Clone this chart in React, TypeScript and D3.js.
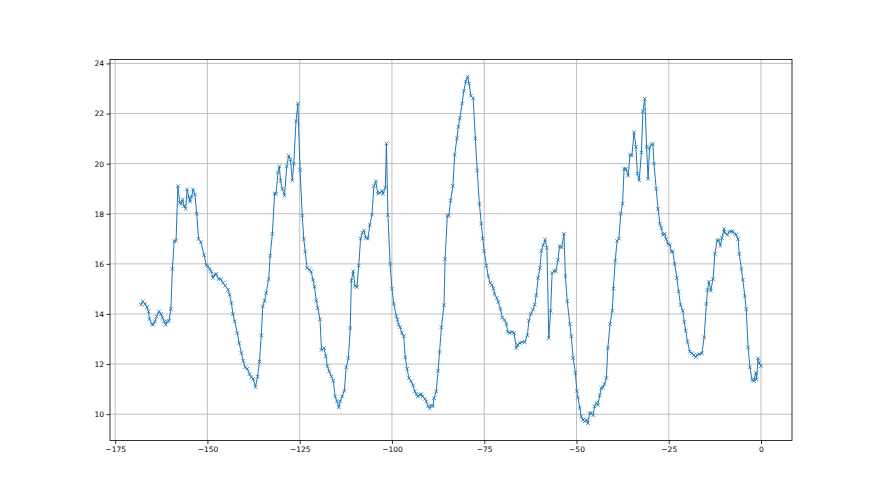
import { useEffect, useRef } from "react";
import * as d3 from "d3";

// readings: [hour offset, value]
const readings: [number, number][] = [
  [-168.0, 14.37], [-167.5, 14.5], [-166.9, 14.4], [-166.4, 14.27], [-166.0, 14.1], [-165.7, 13.8], [-165.1, 13.6], [-164.7, 13.57], [-164.2, 13.7], [-163.8, 13.9],
  [-163.1, 14.1], [-162.6, 14.0], [-162.2, 13.85], [-161.7, 13.7], [-161.3, 13.57], [-160.9, 13.7], [-160.4, 13.73], [-159.9, 14.2], [-159.5, 15.8], [-159.0, 16.9],
  [-158.5, 16.93], [-158.0, 19.1], [-157.5, 18.44], [-157.1, 18.4], [-156.7, 18.57], [-156.3, 18.3], [-155.9, 18.2], [-155.5, 18.97], [-155.0, 18.64], [-154.7, 18.48],
  [-154.3, 18.67], [-153.9, 18.97], [-153.4, 18.77], [-152.9, 18.0], [-152.4, 17.0], [-151.8, 16.87], [-150.9, 16.35],
  [-150.3, 15.95], [-149.9, 15.9], [-149.4, 15.8], [-149.0, 15.7], [-148.5, 15.44], [-148.0, 15.57], [-147.6, 15.6], [-147.0, 15.4], [-146.4, 15.39], [-145.8, 15.24],
  [-145.2, 15.13], [-144.4, 14.97], [-144.0, 14.77], [-143.5, 14.44], [-143.1, 14.0], [-142.6, 13.7], [-141.9, 13.24], [-141.4, 12.84], [-140.8, 12.44], [-140.3, 12.13],
  [-139.8, 11.87], [-139.2, 11.81], [-138.6, 11.6], [-138.1, 11.47], [-137.6, 11.41], [-137.0, 11.08], [-136.4, 11.5], [-135.9, 12.1], [-135.4, 13.15], [-135.0, 14.3],
  [-134.5, 14.53], [-134.1, 14.83], [-133.4, 15.39], [-133.0, 16.32], [-132.4, 17.2], [-131.8, 18.8], [-131.4, 18.8], [-130.9, 19.65], [-130.5, 19.89], [-130.2, 19.33],
  [-129.7, 18.99], [-129.1, 18.72], [-128.5, 19.89], [-128.0, 20.32], [-127.5, 20.16], [-127.0, 19.33], [-126.6, 20.0], [-126.0, 21.69], [-125.5, 22.4], [-124.9, 19.76],
  [-124.3, 17.92], [-123.9, 16.99], [-123.5, 16.49], [-123.0, 15.83], [-122.3, 15.76], [-121.9, 15.69], [-121.4, 15.36], [-121.0, 15.09], [-120.5, 14.53], [-120.1, 14.23],
  [-119.5, 13.79], [-119.1, 12.56], [-118.4, 12.64], [-117.9, 12.31], [-117.5, 11.91], [-117.0, 11.71], [-116.4, 11.51], [-115.9, 11.33], [-115.4, 10.71], [-114.9, 10.51],
  [-114.4, 10.27], [-114.0, 10.51], [-113.5, 10.71], [-112.9, 10.93], [-112.4, 11.87], [-111.8, 12.24], [-111.3, 13.44], [-111.0, 15.33], [-110.5, 15.71], [-110.0, 15.11],
  [-109.5, 15.07], [-109.0, 15.93], [-108.5, 17.01], [-108.0, 17.24], [-107.6, 17.33], [-107.1, 17.04], [-106.5, 17.01], [-106.0, 17.55], [-105.4, 17.97], [-104.9, 19.1],
  [-104.4, 19.3], [-103.8, 18.8], [-103.3, 18.84], [-102.7, 18.91], [-102.4, 18.8], [-101.8, 19.04], [-101.5, 20.8], [-101.1, 17.95], [-100.5, 16.0], [-100.0, 15.01],
  [-99.5, 14.4], [-98.8, 13.91], [-98.5, 13.77], [-98.2, 13.57], [-97.8, 13.47], [-97.3, 13.24], [-96.8, 13.11], [-96.4, 12.27], [-95.9, 11.81], [-95.4, 11.44],
  [-94.8, 11.31], [-94.3, 11.15], [-93.8, 10.91], [-93.4, 10.8], [-93.0, 10.71], [-92.4, 10.77], [-92.1, 10.8], [-91.7, 10.71], [-91.1, 10.61], [-90.7, 10.51],
  [-90.2, 10.31], [-89.8, 10.24], [-89.4, 10.35], [-88.9, 10.31], [-88.6, 10.64], [-88.0, 10.91], [-87.5, 11.73], [-87.1, 12.48], [-86.6, 13.47], [-85.9, 14.35],
  [-85.6, 16.2], [-85.0, 17.91], [-84.6, 17.93], [-84.1, 18.53], [-83.5, 19.11], [-83.0, 20.35], [-82.4, 21.01], [-82.0, 21.47], [-81.6, 21.81], [-81.0, 22.4],
  [-80.5, 22.91], [-80.0, 23.28], [-79.5, 23.47], [-79.1, 23.2], [-78.6, 22.71], [-78.0, 22.61], [-77.4, 21.01], [-76.9, 19.73], [-76.3, 18.39], [-75.8, 17.6],
  [-75.4, 17.01], [-75.0, 16.51], [-74.4, 15.93], [-73.9, 15.51], [-73.4, 15.24], [-72.9, 15.15], [-72.5, 15.01], [-72.2, 14.8], [-71.6, 14.64], [-71.2, 14.48],
  [-70.6, 14.2], [-70.1, 13.85], [-69.5, 13.77], [-69.0, 13.6], [-68.6, 13.28], [-68.1, 13.24], [-67.5, 13.28], [-66.9, 13.24], [-66.3, 12.64], [-65.9, 12.77],
  [-65.3, 12.84], [-64.7, 12.88], [-64.0, 12.88], [-63.3, 13.15], [-62.9, 13.73], [-62.4, 14.0], [-61.8, 14.17], [-61.3, 14.37], [-60.9, 14.75], [-60.4, 15.44],
  [-59.9, 15.84], [-59.5, 16.53], [-59.0, 16.75], [-58.5, 16.97], [-58.0, 16.64], [-57.5, 13.04], [-57.0, 14.13], [-56.6, 15.64], [-56.1, 15.71], [-55.6, 15.71],
  [-55.0, 16.15], [-54.6, 16.71], [-54.0, 16.65], [-53.4, 17.2], [-53.0, 15.51], [-52.5, 14.51], [-51.8, 13.6], [-51.4, 13.11], [-50.9, 12.24], [-50.3, 11.64],
  [-49.9, 10.93], [-49.6, 10.67], [-49.1, 10.24], [-48.7, 9.91], [-48.2, 9.77], [-47.8, 9.71], [-47.3, 9.77], [-46.9, 9.64], [-46.4, 10.04], [-46.0, 10.04],
  [-45.5, 9.95], [-45.1, 10.31], [-44.6, 10.44], [-44.2, 10.37], [-43.7, 10.75], [-43.3, 11.04], [-42.8, 11.07], [-42.4, 11.2], [-41.9, 11.44], [-41.5, 12.64],
  [-40.9, 13.6], [-40.3, 14.13], [-40.0, 15.01], [-39.5, 16.13], [-39.0, 16.91], [-38.5, 17.01], [-38.0, 18.0], [-37.5, 18.4], [-37.1, 19.79], [-36.6, 19.79],
  [-36.0, 19.52], [-35.5, 20.36], [-35.0, 20.32], [-34.4, 21.25], [-33.9, 20.67], [-33.5, 19.6], [-33.0, 19.33], [-32.4, 20.45], [-32.0, 22.09], [-31.5, 22.59],
  [-31.0, 20.67], [-30.6, 19.39], [-30.2, 20.63], [-29.7, 20.76], [-29.3, 20.8], [-29.0, 20.0], [-28.4, 18.99], [-27.9, 18.19], [-27.4, 17.6], [-27.0, 17.43],
  [-26.6, 17.16], [-26.1, 17.2], [-25.7, 16.99], [-25.2, 16.8], [-24.7, 16.76], [-24.3, 16.49], [-23.9, 16.49], [-23.4, 16.0], [-22.8, 15.43], [-22.3, 14.89],
  [-21.8, 14.36], [-21.2, 14.13], [-20.8, 13.69], [-20.4, 13.33], [-19.9, 12.89], [-19.3, 12.49], [-18.7, 12.43], [-18.2, 12.36], [-17.7, 12.27], [-17.3, 12.36],
  [-16.7, 12.4], [-16.0, 12.43], [-15.4, 13.07], [-14.8, 14.4], [-14.5, 14.96], [-14.1, 15.29], [-13.6, 14.93], [-13.0, 15.39], [-12.5, 16.4], [-11.9, 16.93],
  [-11.5, 16.96], [-11.0, 16.72], [-10.6, 17.03], [-10.0, 17.39], [-9.7, 17.23], [-9.1, 17.16], [-8.6, 17.29], [-8.0, 17.29], [-7.6, 17.29], [-7.1, 17.2],
  [-6.7, 17.16], [-6.2, 16.99], [-5.9, 16.4], [-5.3, 15.79], [-4.9, 15.36], [-4.4, 14.72], [-4.0, 14.19], [-3.5, 12.67], [-3.0, 11.87], [-2.4, 11.36],
  [-1.9, 11.33], [-1.4, 11.65], [-1.2, 11.39], [-0.8, 12.23], [-0.5, 12.05], [0.0, 11.92],
];

const xTicks = [-175, -150, -125, -100, -75, -50, -25, 0];
const yTicks = [10, 12, 14, 16, 18, 20, 22, 24];

function App() {
  const ref = useRef<SVGSVGElement>(null);

  const width = 880;
  const height = 495;
  const margin = { top: 59.4, right: 88, bottom: 54.5, left: 110 };
  const blue = "#1f77b4";

  useEffect(() => {
    const svg = d3.select(ref.current);
    svg.selectAll("*").remove();

    // matplotlib-style 5% padding around the data
    const [x0, x1] = d3.extent(readings, (d) => d[0]) as [number, number];
    const [y0, y1] = d3.extent(readings, (d) => d[1]) as [number, number];
    const px = (x1 - x0) * 0.05;
    const py = (y1 - y0) * 0.05;

    const x = d3.scaleLinear()
      .domain([x0 - px, x1 + px])
      .range([margin.left, width - margin.right]);

    const y = d3.scaleLinear()
      .domain([y0 - py, y1 + py])
      .range([height - margin.bottom, margin.top]);

    // grid
    const grid = svg.append("g").attr("stroke", "#b0b0b0").attr("stroke-width", 0.8);
    grid.selectAll("line.gx")
      .data(xTicks)
      .enter()
      .append("line")
      .attr("x1", (d) => x(d)).attr("x2", (d) => x(d))
      .attr("y1", margin.top).attr("y2", height - margin.bottom);
    grid.selectAll("line.gy")
      .data(yTicks)
      .enter()
      .append("line")
      .attr("x1", margin.left).attr("x2", width - margin.right)
      .attr("y1", (d) => y(d)).attr("y2", (d) => y(d));

    // line
    const line = d3.line<[number, number]>()
      .x((d) => x(d[0]))
      .y((d) => y(d[1]));

    svg.append("path")
      .datum(readings)
      .attr("fill", "none")
      .attr("stroke", blue)
      .attr("stroke-width", 1)
      .attr("d", line);

    // x markers
    const s = 1.8;
    svg.append("g")
      .selectAll("path")
      .data(readings)
      .enter()
      .append("path")
      .attr("transform", (d) => `translate(${x(d[0])},${y(d[1])})`)
      .attr("d", `M${-s},${-s}L${s},${s}M${-s},${s}L${s},${-s}`)
      .attr("stroke", blue)
      .attr("stroke-width", 0.8)
      .attr("fill", "none");

    // axes
    const xAxis = svg.append("g")
      .attr("transform", `translate(0, ${height - margin.bottom})`)
      .call(d3.axisBottom(x).tickValues(xTicks).tickSize(3.5).tickPadding(2.5).tickSizeOuter(0));
    const yAxis = svg.append("g")
      .attr("transform", `translate(${margin.left}, 0)`)
      .call(d3.axisLeft(y).tickValues(yTicks).tickSize(3.5).tickPadding(2.5).tickSizeOuter(0));

    [xAxis, yAxis].forEach((a) => {
      a.select(".domain").remove();
      a.selectAll("line").attr("stroke", "#000").attr("stroke-width", 0.8);
      a.selectAll("text")
        .attr("fill", "#000")
        .style("font-family", "'DejaVu Sans', sans-serif")
        .style("font-size", "7.5px");
    });

    // frame
    svg.append("rect")
      .attr("x", margin.left)
      .attr("y", margin.top)
      .attr("width", width - margin.left - margin.right)
      .attr("height", height - margin.top - margin.bottom)
      .attr("fill", "none")
      .attr("stroke", "#000")
      .attr("stroke-width", 0.8);
  }, []);

  return (
    <div style={{ position: "fixed", left: 0, top: 0, background: "#fff" }}>
      <svg ref={ref} width={width} height={height}></svg>
    </div>
  );
}

export default App;
